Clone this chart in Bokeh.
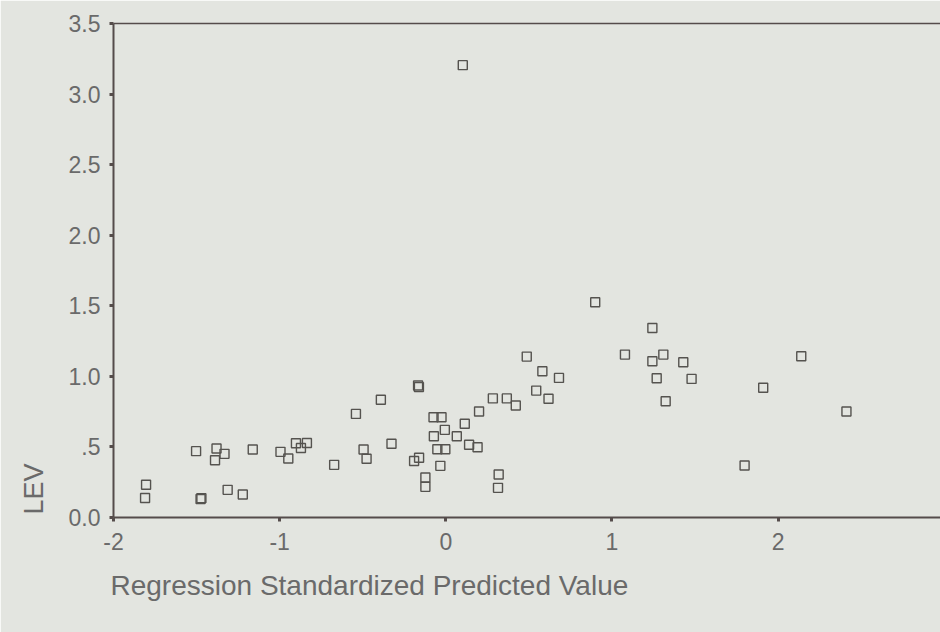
from bokeh.plotting import figure
from bokeh.models import LinearAxis, FixedTicker, Range1d, Title
from bokeh.embed import file_html
from bokeh.resources import INLINE

# Regression Standardized Predicted Value
pred_x = [-1.804, -1.810, -1.503, -1.380, -1.332, -1.389, -1.471, -1.476,
          -1.313, -1.222, -1.162, -0.995, -0.948, -0.902, -0.872, -0.836,
          -0.672, -0.495, -0.477, -0.541, -0.391, -0.327, -0.167, -0.162,
          -0.191, -0.161, -0.123, -0.123, -0.074, -0.026, -0.006, -0.072,
          -0.051, -0.003, -0.033, 0.066, 0.114, 0.140, 0.191, 0.200,
          0.283, 0.367, 0.421, 0.318, 0.314, 0.487, 0.544, 0.581,
          0.618, 0.681, 0.899, 1.078, 1.243, 1.243, 1.309, 1.269,
          1.429, 1.479, 1.323, 1.798, 1.910, 2.139, 2.411, 0.102]
# LEV (leverage)
lev_y = [0.232, 0.138, 0.470, 0.489, 0.451, 0.406, 0.137, 0.131,
         0.196, 0.163, 0.482, 0.465, 0.418, 0.526, 0.492, 0.528,
         0.373, 0.482, 0.416, 0.734, 0.834, 0.522, 0.935, 0.924,
         0.400, 0.423, 0.283, 0.217, 0.710, 0.710, 0.621, 0.576,
         0.484, 0.484, 0.366, 0.576, 0.664, 0.515, 0.498, 0.751,
         0.844, 0.844, 0.793, 0.305, 0.210, 1.140, 0.899, 1.036,
         0.841, 0.989, 1.525, 1.154, 1.343, 1.107, 1.154, 0.987,
         1.100, 0.982, 0.824, 0.368, 0.919, 1.142, 0.751, 3.205]

x_ticks = [-2, -1, 0, 1, 2, 3]
x_tick_labels = ["-2", "-1", "0", "1", "2", "3"]
y_ticks = [0.0, 0.5, 1.0, 1.5, 2.0, 2.5, 3.0, 3.5]
y_tick_labels = ["0.0", ".5", "1.0", "1.5", "2.0", "2.5", "3.0", "3.5"]
x_title = "Regression Standardized Predicted Value"
y_title = "LEV"

BG = "#e3e5e0"
AXIS = "#554c4b"
TEXT = "#6a6a6a"
MARK = "#55534f"
FONT = "Liberation Sans"

p = figure(width=940, height=632,
           x_range=Range1d(-2, 2.977), y_range=Range1d(0, 3.5),
           output_backend="svg", toolbar_location=None,
           min_border_left=113, min_border_right=0,
           min_border_top=23, min_border_bottom=115)
p.background_fill_color = BG
p.border_fill_color = BG
p.outline_line_color = None
p.grid.visible = False

p.scatter(pred_x, lev_y, marker="square", size=9, fill_color=None,
          line_color=MARK, line_width=1.4)

for ax, ticks, labels in ((p.xaxis[0], x_ticks, x_tick_labels),
                          (p.yaxis[0], y_ticks, y_tick_labels)):
    ax.ticker = FixedTicker(ticks=ticks)
    ax.major_label_overrides = {t: l for t, l in zip(ticks, labels)}
    ax.minor_tick_line_color = None
    ax.major_tick_in = 0
    ax.major_tick_out = 4
    ax.major_tick_line_width = 3
    ax.major_tick_line_color = AXIS
    ax.axis_line_color = AXIS
    ax.axis_line_width = 2
    ax.major_label_text_font = FONT
    ax.major_label_text_font_size = "23px"
    ax.major_label_text_color = TEXT

p.xaxis[0].major_label_standoff = 11
p.yaxis[0].major_label_standoff = 9

top = LinearAxis(ticker=FixedTicker(ticks=[]), major_tick_in=0, major_tick_out=0,
                 minor_tick_in=0, minor_tick_out=0,
                 major_label_text_font_size="0px",
                 axis_line_color=AXIS, axis_line_width=1.5)
p.add_layout(top, "above")

# axis titles, start-aligned as in the original
p.add_layout(Title(text=x_title, align="left", offset=-3, standoff=35,
                   vertical_align="top",
                   text_font=FONT, text_font_size="28px",
                   text_font_style="normal", text_color=TEXT), "below")
p.add_layout(Title(text=y_title, align="left", offset=3, standoff=30,
                   vertical_align="top",
                   text_font=FONT, text_font_size="27px",
                   text_font_style="normal", text_color=TEXT), "left")

open("out.html", "w").write(file_html(p, INLINE))
